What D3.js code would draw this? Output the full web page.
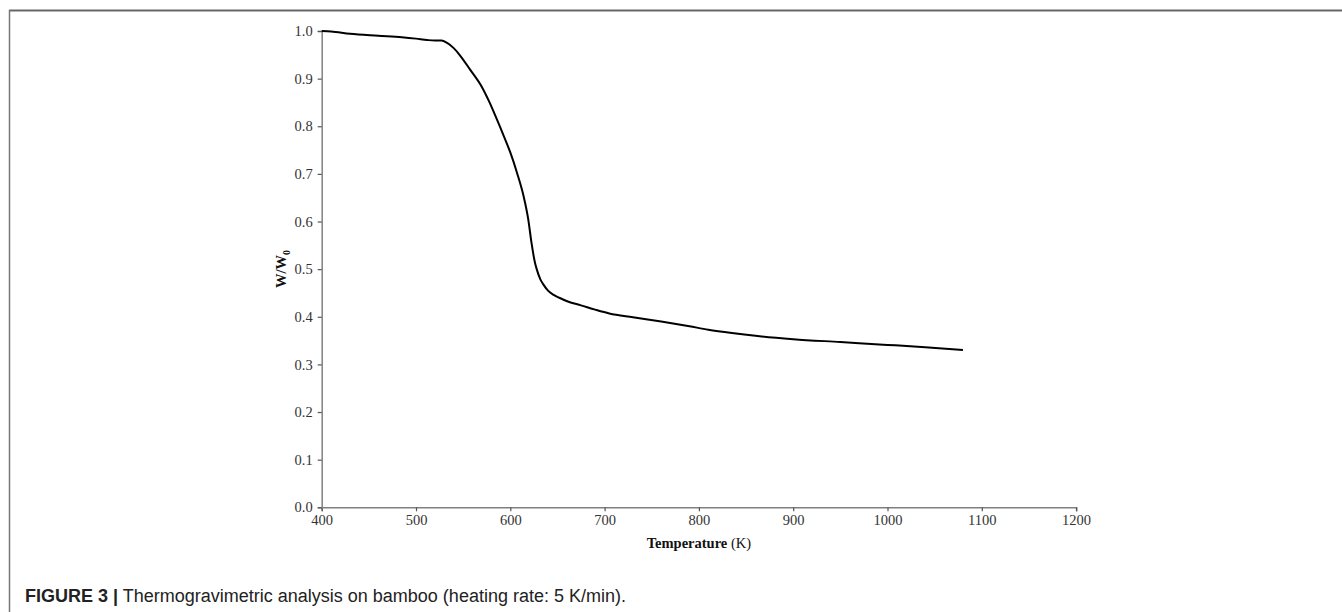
<!DOCTYPE html>
<html>
<head>
<meta charset="utf-8">
<script src="https://cdn.jsdelivr.net/npm/d3@7"></script>
<style>
  html, body { margin: 0; padding: 0; background: #fff; }
  svg { display: block; }
</style>
</head>
<body>
<svg id="chart" width="1342" height="612"></svg>
<script>
// ---- data ----
const temperature = [400, 410, 430, 460, 485, 500, 512, 520, 527, 533, 540, 547, 557, 570, 578, 585, 593, 600, 607, 614, 619, 622.5, 626, 628, 632, 635, 640, 646, 652, 661, 675, 690, 705, 730, 760, 790, 810, 835, 860, 900, 950, 1000, 1040, 1080];
const massRatio   = [1.000, 0.999, 0.994, 0.990, 0.987, 0.984, 0.981, 0.980, 0.980, 0.975, 0.964, 0.948, 0.920, 0.882, 0.850, 0.818, 0.780, 0.745, 0.703, 0.654, 0.605, 0.555, 0.515, 0.500, 0.478, 0.468, 0.455, 0.446, 0.440, 0.432, 0.424, 0.415, 0.407, 0.399, 0.390, 0.380, 0.373, 0.366, 0.360, 0.353, 0.347, 0.341, 0.336, 0.330];
const xTicks = [400, 500, 600, 700, 800, 900, 1000, 1100, 1200];
const yTicks = [0.0, 0.1, 0.2, 0.3, 0.4, 0.5, 0.6, 0.7, 0.8, 0.9, 1.0];
const captionBold = "FIGURE 3 |";
const captionText = " Thermogravimetric analysis on bamboo (heating rate: 5 K/min).";

// ---- layout ----
const svg = d3.select("#chart");
const plotLeft = 321.7, plotRight = 1076.1, plotTop = 31, plotBottom = 507.3;

const x = d3.scaleLinear().domain([400, 1200]).range([plotLeft, plotRight]);
const y = d3.scaleLinear().domain([0, 1]).range([plotBottom, plotTop]);

// frame
svg.append("line").attr("x1", 9).attr("x2", 1342).attr("y1", 10.5).attr("y2", 10.5)
  .attr("stroke", "#666").attr("stroke-width", 2);
svg.append("line").attr("x1", 9.5).attr("x2", 9.5).attr("y1", 10).attr("y2", 612)
  .attr("stroke", "#777").attr("stroke-width", 1.5);

const serif = "'Liberation Serif', 'Times New Roman', serif";

// x axis
const xAxis = svg.append("g").attr("transform", `translate(0,${plotBottom})`)
  .call(d3.axisBottom(x).tickValues(xTicks).tickSize(4).tickPadding(3).tickFormat(d3.format("d")));
// y axis
const yAxis = svg.append("g").attr("transform", `translate(${plotLeft},0)`)
  .call(d3.axisLeft(y).tickValues(yTicks).tickSize(4).tickPadding(5).tickFormat(d3.format(".1f")));

[xAxis, yAxis].forEach(g => {
  g.select(".domain").attr("stroke", "#808080").attr("stroke-width", 1.5);
  g.selectAll(".tick line").attr("stroke", "#555").attr("stroke-width", 1.2);
  g.selectAll(".tick text").style("fill", "#333").style("font-family", serif).style("font-size", "14.5px");
});

// curve
const pts = temperature.map((t, i) => [t, massRatio[i]]);
svg.append("path").datum(pts)
  .attr("fill", "none").attr("stroke", "#000").attr("stroke-width", 2)
  .attr("d", d3.line().x(d => x(d[0])).y(d => y(d[1])).curve(d3.curveMonotoneX));

// x title
const xt = svg.append("text").attr("x", (plotLeft + plotRight) / 2).attr("y", 548).attr("text-anchor", "middle")
  .style("font-family", serif).style("font-size", "14.5px").style("fill", "#111");
xt.append("tspan").attr("font-weight", "bold").text("Temperature ");
xt.append("tspan").text("(K)");

// y title
const yt = svg.append("text").attr("transform", "translate(286,269) rotate(-90)")
  .attr("text-anchor", "middle").style("font-family", serif).style("font-size", "14.5px")
  .attr("font-weight", "bold").style("fill", "#111");
yt.append("tspan").text("W/W");
yt.append("tspan").attr("dy", 4).style("font-size", "10px").text("0");

// caption
const cap = svg.append("text").attr("x", 25).attr("y", 601.5)
  .style("font-family", "'Liberation Sans', Arial, sans-serif").style("font-size", "18px").style("fill", "#222");
cap.append("tspan").attr("font-weight", "bold").text(captionBold);
cap.append("tspan").text(captionText);
</script>
</body>
</html>
